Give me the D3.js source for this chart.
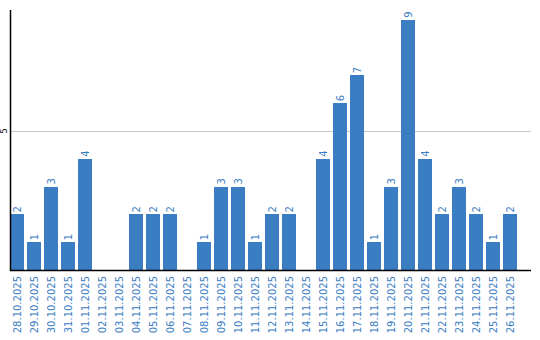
<!DOCTYPE html>
<html>
<head>
<meta charset="utf-8">
<script src="https://cdn.jsdelivr.net/npm/d3@7"></script>
<style>
  body { margin: 0; background: #fff; }
  text { font-family: "DejaVu Sans", sans-serif; }
</style>
</head>
<body>
<div id="main"></div>
<script>
var days = ["28.10.2025","29.10.2025","30.10.2025","31.10.2025","01.11.2025","02.11.2025","03.11.2025",
  "04.11.2025","05.11.2025","06.11.2025","07.11.2025","08.11.2025","09.11.2025","10.11.2025",
  "11.11.2025","12.11.2025","13.11.2025","14.11.2025","15.11.2025","16.11.2025","17.11.2025",
  "18.11.2025","19.11.2025","20.11.2025","21.11.2025","22.11.2025","23.11.2025","24.11.2025",
  "25.11.2025","26.11.2025"];
var counts = [2,1,3,1,4,0,0,2,2,2,0,1,3,3,1,2,2,0,4,6,7,1,3,9,4,2,3,2,1,2];
var yTicks = [5];

var blue = "#3a7dc2";
var svg = d3.select("#main").append("svg")
  .attr("width", 540)
  .attr("height", 340);//canvas

var x = d3.scaleBand()
  .domain(days)
  .range([10, 517])
  .paddingInner(3 / 17)
  .paddingOuter(0)
  .align(0);//day scale
var y = d3.scaleLinear()
  .domain([0, 9.35])
  .range([270, 10]);//count scale

svg.append("g").selectAll("line").data(yTicks).enter().append("line")
  .attr("x1", 11).attr("x2", 531)
  .attr("y1", function(d) { return Math.round(y(d)) + 0.5; })
  .attr("y2", function(d) { return Math.round(y(d)) + 0.5; })
  .attr("stroke", "#c8c8c8")
  .attr("stroke-width", 1);//grid line

svg.append("g").selectAll("rect").data(counts).enter().append("rect")
  .attr("x", function(d, i) { return x(days[i]); })
  .attr("y", function(d) { return y(d); })
  .attr("width", x.bandwidth())
  .attr("height", function(d) { return y(0) - y(d); })
  .attr("fill", blue)
  .attr("shape-rendering", "crispEdges");//bars

var labelled = counts.map(function(d, i) { return {v: d, day: days[i]}; })
  .filter(function(d) { return d.v > 0; });
svg.append("g").selectAll("text").data(labelled).enter().append("text")
  .attr("transform", function(d) {
    return "translate(" + (x(d.day) + x.bandwidth() / 2 + 3.5) + "," + (y(d.v) - 2) + ") rotate(-90)";
  })
  .attr("fill", blue)
  .style("font-size", "10px")
  .text(function(d) { return d.v; });//value labels

var xAxis = d3.axisBottom(x).tickSize(0).tickPadding(0);
var gx = svg.append("g")
  .attr("transform", "translate(0,270)")
  .call(xAxis);
gx.select(".domain").remove();
gx.selectAll("text")
  .attr("transform", "rotate(-90)")
  .attr("x", -6)
  .attr("y", 0)
  .attr("dy", "0.35em")
  .style("text-anchor", "end")
  .style("font-size", "10px")
  .style("font-family", "DejaVu Sans")
  .attr("fill", blue);//day labels

svg.append("line")
  .attr("x1", 10).attr("x2", 531)
  .attr("y1", 270.5).attr("y2", 270.5)
  .attr("stroke", "#000")
  .attr("stroke-width", 1.5);//x axis line
svg.append("line")
  .attr("x1", 10.5).attr("x2", 10.5)
  .attr("y1", 10).attr("y2", 271)
  .attr("stroke", "#000")
  .attr("stroke-width", 1.5);//y axis line

svg.append("g").selectAll("text").data(yTicks).enter().append("text")
  .attr("transform", function(d) { return "translate(7," + y(d) + ") rotate(-90)"; })
  .style("text-anchor", "middle")
  .style("font-size", "8px")
  .attr("fill", "#000")
  .text(function(d) { return d; });//y tick label
</script>
</body>
</html>
